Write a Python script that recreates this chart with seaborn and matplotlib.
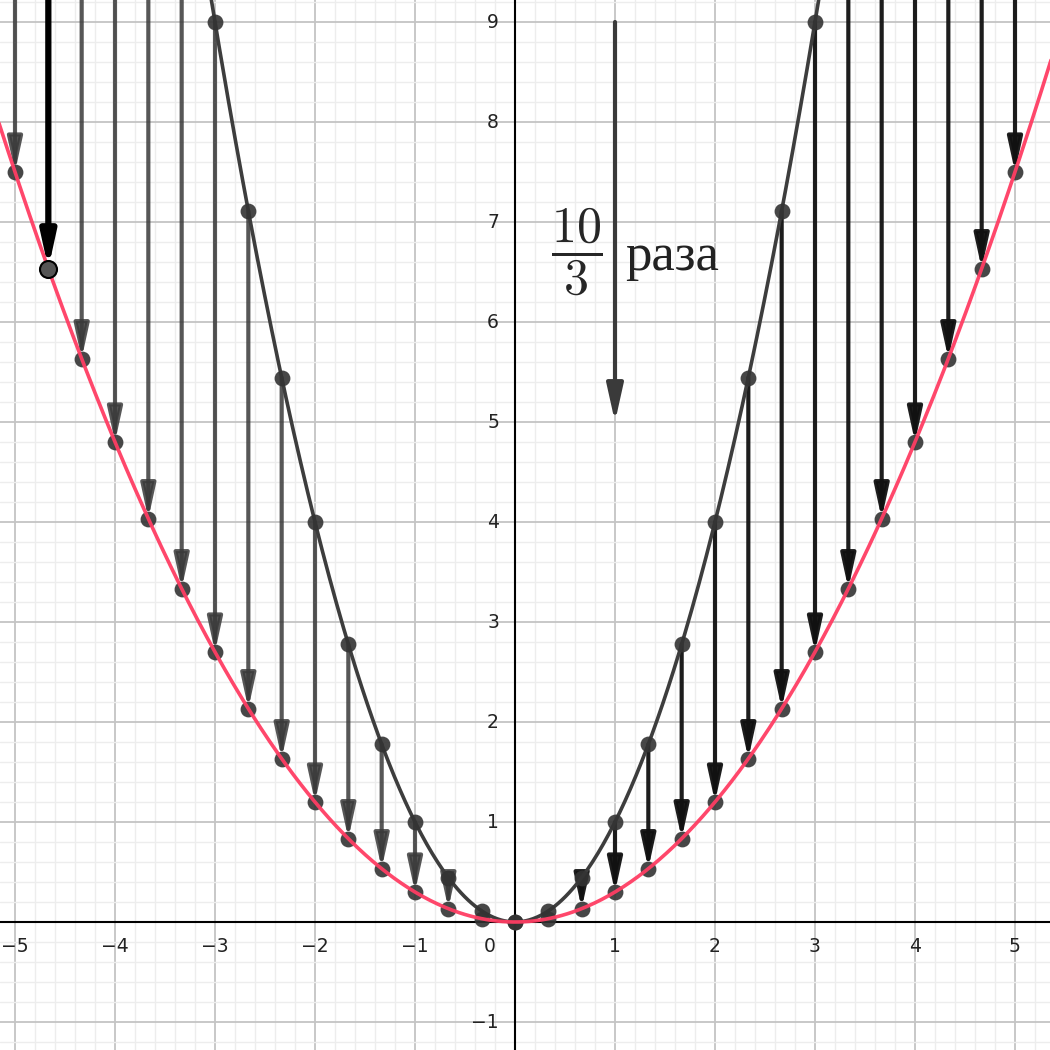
import numpy as np
import pandas as pd
import matplotlib
matplotlib.use("Agg")
import matplotlib.pyplot as plt
import seaborn as sns

sns.set_theme(style="white")
plt.rcParams["mathtext.fontset"] = "cm"

# data: two parabolas y = a*x^2 and points at x = k/3
COEF_TOP = 1.0
COEF_BOTTOM = 0.3
STEPS = list(range(-15, 16))          # x = k / 3
HIGHLIGHT_STEP = -14
X_TICKS = [-5, -4, -3, -2, -1, 1, 2, 3, 4, 5]
Y_TICKS = [-1, 1, 2, 3, 4, 5, 6, 7, 8, 9]
NOTE_ARROW = (1, 9, 5)                # x, from y, to y
NOTE_TEXT = "раза"

x_pts = np.array([k / 3 for k in STEPS])
pts = pd.DataFrame({"x": x_pts,
                    "top": COEF_TOP * x_pts ** 2,
                    "bottom": COEF_BOTTOM * x_pts ** 2})
xs = np.linspace(-5.3, 5.5, 600)
curves = pd.DataFrame({"x": xs, "top": COEF_TOP * xs ** 2, "bottom": COEF_BOTTOM * xs ** 2})

fig = plt.figure(figsize=(10.5, 10.5), dpi=100)
ax = fig.add_axes([0, 0, 1, 1])
ax.set_xlim(-5.15, 5.35)
ax.set_ylim(-1.28, 9.22)

# grid
for v in np.arange(-6, 6.01, 0.2):
    major = abs(v - round(v)) < 1e-6
    ax.axvline(v, color="#c4c4c4" if major else "#ededed", lw=1.3 if major else 1.0, zorder=0)
for v in np.arange(-2, 10.01, 0.2):
    major = abs(v - round(v)) < 1e-6
    ax.axhline(v, color="#c4c4c4" if major else "#ededed", lw=1.3 if major else 1.0, zorder=0)
ax.axhline(0, color="black", lw=1.5, zorder=1)
ax.axvline(0, color="black", lw=1.5, zorder=1)

# arrows from top parabola down to bottom parabola
for k, row in zip(STEPS, pts.itertuples()):
    if abs(k) < 2:
        continue
    if k == HIGHLIGHT_STEP:
        col, lw, al = "black", 4.5, 1.0
    elif k < 0:
        col, lw, al = "#3a3a3a", 3.0, 0.85
    else:
        col, lw, al = "#111111", 3.0, 0.95
    ax.annotate("", xy=(row.x, row.bottom), xytext=(row.x, row.top),
                arrowprops=dict(arrowstyle="-|>,head_length=1.6,head_width=0.35",
                                color=col, lw=lw, alpha=al, shrinkA=0, shrinkB=0,
                                mutation_scale=12.5),
                zorder=2)

sns.lineplot(data=curves, x="x", y="top", color="#3d3d3d", lw=2.6, ax=ax, zorder=3)

normal = pts[np.array(STEPS) != HIGHLIGHT_STEP]
sns.scatterplot(data=pts, x="x", y="top", color="#333333", s=130, alpha=0.9,
                linewidth=0, ax=ax, zorder=5)
sns.scatterplot(data=normal, x="x", y="bottom", color="#333333", s=130, alpha=0.9,
                linewidth=0, ax=ax, zorder=5)
sns.lineplot(data=curves, x="x", y="bottom", color="#ff3d63", lw=2.6, alpha=0.95, ax=ax, zorder=6)
hl = pts[np.array(STEPS) == HIGHLIGHT_STEP]
sns.scatterplot(data=hl, x="x", y="bottom", color="#555555", s=150,
                edgecolor="black", linewidth=1.5, ax=ax, zorder=7)

# annotation arrow and label
nx, ny0, ny1 = NOTE_ARROW
ax.annotate("", xy=(nx, ny1), xytext=(nx, ny0),
            arrowprops=dict(arrowstyle="-|>,head_length=1.8,head_width=0.4",
                            color="#3a3a3a", lw=3.0, shrinkA=0, shrinkB=0,
                            mutation_scale=12.5), zorder=2)
ax.text(0.62, 6.70, r"$\dfrac{10}{3}$", fontsize=36, ha="center", va="center", zorder=7)
ax.text(1.1, 6.52, NOTE_TEXT, fontsize=38, family=["Liberation Serif", "DejaVu Serif"],
        ha="left", va="baseline", color="#222222", zorder=7)

# tick labels drawn inside the plot
tick_font = dict(fontsize=13.5, family=["DejaVu Sans"], color="#222222", zorder=7)
for t in X_TICKS:
    ax.text(t, -0.24, str(t).replace("-", "\u2212"), ha="center", va="center", **tick_font)
ax.text(-0.25, -0.24, "0", ha="center", va="center", **tick_font)
for t in Y_TICKS:
    ax.text(-0.16, t, str(t).replace("-", "\u2212"), ha="right", va="center", **tick_font)

ax.set_xlabel("")
ax.set_ylabel("")
ax.set_xticks([])
ax.set_yticks([])
for s in ax.spines.values():
    s.set_visible(False)

fig.savefig("out.png", dpi=100)
